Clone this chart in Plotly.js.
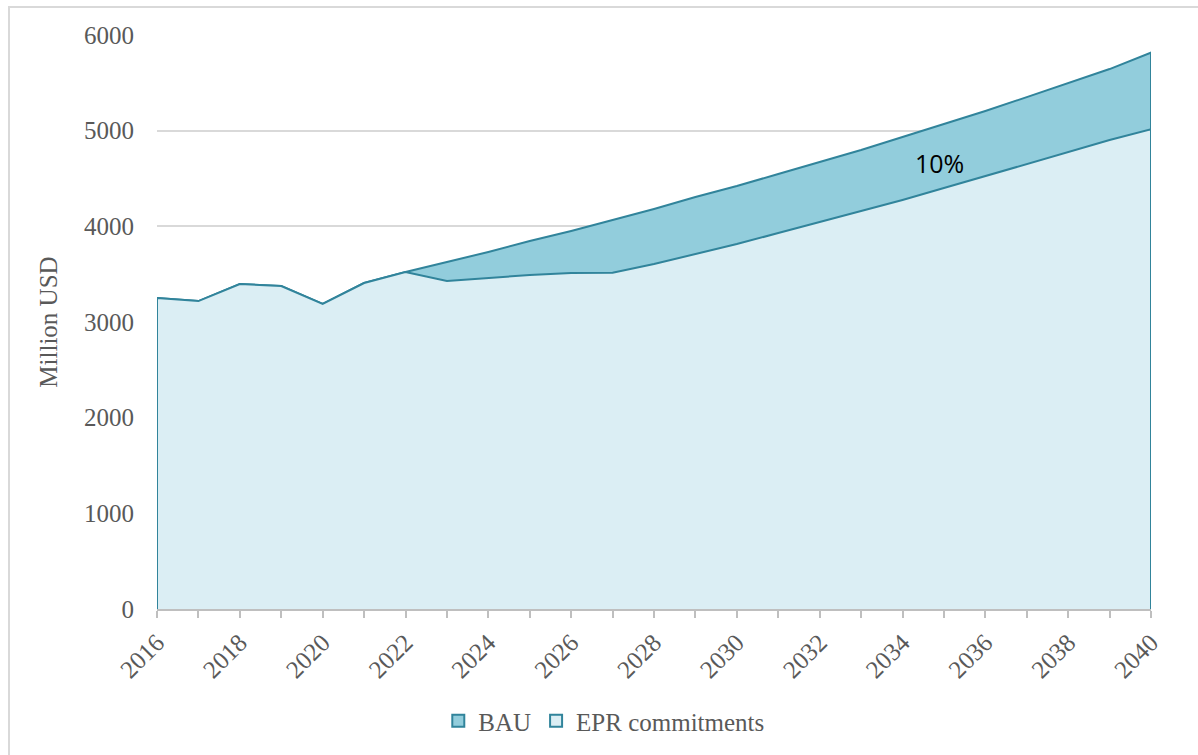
<!DOCTYPE html>
<html>
<head>
<meta charset="utf-8">
<script src="https://cdn.plot.ly/plotly-3.0.1.min.js"></script>
<style>
  body { margin: 0; background: #fff; }
  #wrap { position: relative; width: 1198px; height: 755px; overflow: hidden; }
  #chart { width: 1198px; height: 755px; }
  #frame { position: absolute; left: 8px; top: 6px; width: 1300px; height: 900px;
           border: 2px solid #d9d9d9; pointer-events: none; box-sizing: border-box; }
</style>
</head>
<body>
<div id="wrap"><div id="chart"></div><div id="frame"></div></div>
<script>
const years = [2016,2017,2018,2019,2020,2021,2022,2023,2024,2025,2026,2027,2028,2029,2030,2031,2032,2033,2034,2035,2036,2037,2038,2039,2040];
const eprCommitments = [3251,3219,3397,3376,3188,3407,3522,3428,3460,3491,3512,3515,3606,3711,3815,3930,4045,4160,4275,4400,4526,4651,4777,4902,5015];
const bauYears = [2022,2023,2024,2025,2026,2027,2028,2029,2030,2031,2032,2033,2034,2035,2036,2037,2038,2039,2040];
const bauValues = [3522,3627,3732,3846,3951,4066,4181,4306,4421,4547,4672,4798,4934,5070,5205,5351,5498,5644,5815];
const xTickLabels = ['2016','2018','2020','2022','2024','2026','2028','2030','2032','2034','2036','2038','2040'];
const annotationText = '10%';

const teal = '#31849b';
const serif = 'Liberation Serif, DejaVu Serif, serif';

const bauTotal = years.map((y, i) => {
  const k = bauYears.indexOf(y);
  return k >= 0 ? bauValues[k] : eprCommitments[i];
});

function closed(xs, ys) {
  return {
    x: [xs[0]].concat(xs, [xs[xs.length - 1]]),
    y: [0].concat(ys, [0])
  };
}

const bauC = closed(years, bauTotal);
const eprC = closed(years, eprCommitments);

const traces = [
  { type: 'scatter', mode: 'lines', x: bauC.x, y: bauC.y, fill: 'tozeroy',
    fillcolor: '#92cddc', line: { color: teal, width: 2 }, showlegend: false, hoverinfo: 'skip' },
  { type: 'scatter', mode: 'lines', x: eprC.x, y: eprC.y, fill: 'tozeroy',
    fillcolor: '#dbeef4', line: { color: teal, width: 2 }, showlegend: false, hoverinfo: 'skip' },
  { type: 'bar', name: 'BAU', x: [null], y: [null],
    marker: { color: '#92cddc', line: { color: teal, width: 2 } } },
  { type: 'bar', name: 'EPR commitments', x: [null], y: [null],
    marker: { color: '#dbeef4', line: { color: teal, width: 2 } } }
];

const layout = {
  width: 1198, height: 755,
  margin: { l: 157, r: 47, t: 35, b: 146 },
  paper_bgcolor: '#ffffff', plot_bgcolor: '#ffffff',
  font: { family: serif, color: '#595959', size: 25 },
  xaxis: {
    range: [years[0], years[years.length - 1]],
    tickvals: xTickLabels.map(Number), ticktext: xTickLabels,
    tickangle: -45, ticks: 'outside', ticklen: 7, tickcolor: '#bfbfbf', tickwidth: 2,
    minor: { dtick: 1, tick0: years[0], ticks: 'outside', ticklen: 7, tickcolor: '#bfbfbf', tickwidth: 2, showgrid: false },
    showline: true, linecolor: '#bfbfbf', linewidth: 2,
    showgrid: false, zeroline: false,
    tickfont: { family: serif, size: 25, color: '#595959' }, fixedrange: true
  },
  yaxis: {
    range: [0, 6000], dtick: 1000, tick0: 0,
    showgrid: true, gridcolor: '#d9d9d9', gridwidth: 2,
    zeroline: false, showline: false, ticks: '',
    ticklabelstandoff: 22,
    tickfont: { family: serif, size: 25, color: '#595959' },
    title: { text: 'Million USD', font: { family: serif, size: 25, color: '#595959' }, standoff: 19 },
    fixedrange: true
  },
  showlegend: true,
  legend: {
    orientation: 'h', xref: 'container', yref: 'container',
    x: 0.504, xanchor: 'center', y: 0.045, yanchor: 'middle',
    font: { family: serif, size: 25, color: '#595959' },
    itemwidth: 30, tracegroupgap: 0, bgcolor: 'rgba(0,0,0,0)'
  },
  annotations: [{
    x: 2034.9, y: 4660, xref: 'x', yref: 'y', text: annotationText, showarrow: false,
    font: { family: 'Open Sans, Liberation Sans, sans-serif', size: 25, color: '#000000' }
  }]
};

Plotly.newPlot('chart', traces, layout, { displayModeBar: false, staticPlot: true });
</script>
</body>
</html>
